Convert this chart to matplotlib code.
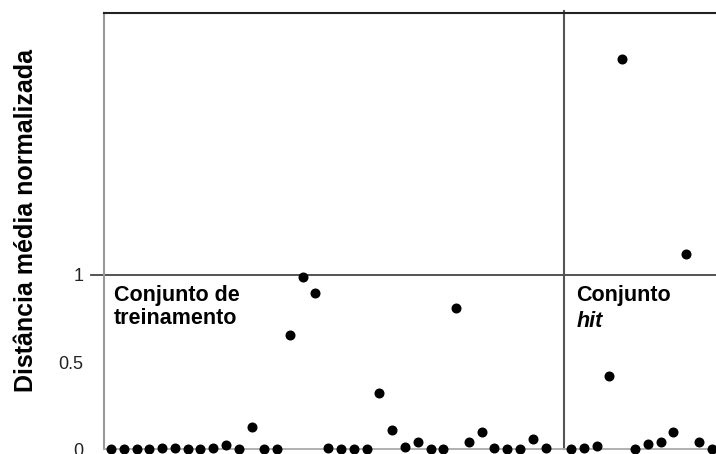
import numpy as np
import matplotlib
matplotlib.use('Agg')
import matplotlib.pyplot as plt

plt.rcParams['font.family'] = ['Liberation Sans', 'DejaVu Sans']

# distancia media normalizada de cada amostra
treino_idx = np.arange(0, 35)
treino_vals = [0, 0, 0, 0, 0.005, 0.005, 0, 0, 0.005, 0.025,
               0, 0.125, 0, 0, 0.655, 0.99, 0.895, 0.01, 0, 0,
               0, 0.325, 0.11, 0.015, 0.04, 0, 0, 0.81, 0.04, 0.1,
               0.005, 0, 0, 0.06, 0.005]

hit_idx = np.arange(36, 48)
hit_vals = [0, 0.005, 0.02, 0.42, 2.24, 0, 0.03, 0.04, 0.1, 1.12, 0.04, 0]

separador = 35.45
y_ticks = [0, 0.5, 1]
y_tick_labels = ['0', '0.5', '1']

fig = plt.figure(figsize=(7.16, 4.54), dpi=100)
ax = fig.add_axes([0.1457, 0.0104, 0.8543, 0.9604])

ax.plot(treino_idx, treino_vals, 'o', color='black', markersize=6.2, clip_on=False, zorder=5)
ax.plot(hit_idx, hit_vals, 'o', color='black', markersize=6.2, clip_on=False, zorder=5)

ax.set_xlim(-0.524, 47.34)
ax.set_ylim(0, 2.5)

# linha de referencia em 1 e divisao entre os conjuntos
ax.axhline(1, xmin=-0.022, xmax=1, color='#444444', linewidth=1.3, clip_on=False, zorder=2)
ax.plot([separador, separador], [0, 2.515], color='#555555', linewidth=1.5, clip_on=False, zorder=2)

ax.spines['right'].set_visible(False)
ax.spines['top'].set_color('#222222')
ax.spines['top'].set_linewidth(1.5)
ax.spines['left'].set_color('#999999')
ax.spines['left'].set_linewidth(1.5)
ax.spines['bottom'].set_color('#aaaaaa')
ax.spines['bottom'].set_linewidth(1.3)

ax.set_xticks([])
ax.set_yticks(y_ticks)
ax.set_yticklabels(y_tick_labels, fontsize=13)
ax.tick_params(axis='y', length=0, pad=15, colors='#222222')

ax.set_ylabel('Distância média normalizada', fontsize=18, fontweight='bold')
ax.yaxis.set_label_coords(-0.108, 0.525)

ax.text(0.2, 0.94, 'Conjunto de\ntreinamento', fontsize=15.5, fontweight='bold',
        va='top', ha='left', linespacing=1.1)
ax.text(36.4, 0.94, 'Conjunto', fontsize=15.5, fontweight='bold', va='top', ha='left')
ax.text(36.4, 0.79, 'hit', fontsize=15.5, fontweight='bold', fontstyle='italic', va='top', ha='left')

fig.savefig('out.png', dpi=100)
